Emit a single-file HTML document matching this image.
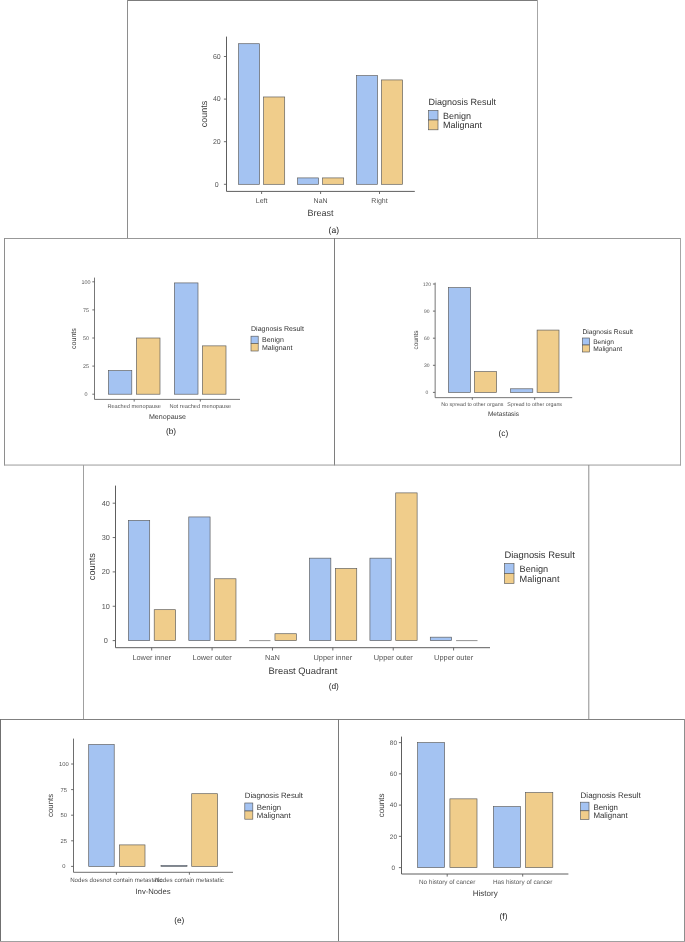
<!DOCTYPE html>
<html lang="en">
<head>
<meta charset="utf-8">
<title>Diagnosis result by clinical feature</title>
<style>
html,body{margin:0;padding:0;background:#ffffff;}
body{width:685px;height:942px;overflow:hidden;}
svg{display:block;font-family:"Liberation Sans", Arial, Helvetica, sans-serif;opacity:0.999;will-change:transform;}
svg text{white-space:pre;text-rendering:geometricPrecision;}
</style>
</head>
<body>
<svg width="685" height="942" viewBox="0 0 685 942">
<rect x="0" y="0" width="685" height="942" fill="#ffffff"/>
<g id="borders">
<rect x="127" y="0" width="411" height="1" fill="#7c7c7c"/>
<rect x="127" y="0" width="1" height="239" fill="#8e8e8e"/>
<rect x="537" y="0" width="1" height="239" fill="#a6a6a6"/>
<rect x="4" y="238" width="677" height="1" fill="#989898"/>
<rect x="4" y="238" width="1" height="227.4" fill="#8e8e8e"/>
<rect x="334" y="238" width="1" height="227.4" fill="#7e7e7e"/>
<rect x="680" y="238" width="1" height="227.4" fill="#a6a6a6"/>
<rect x="4" y="464.55" width="677" height="1" fill="#9c9c9c"/>
<rect x="83" y="465" width="1" height="255" fill="#a0a0a0"/>
<rect x="588.3" y="465" width="1" height="255" fill="#8e8e8e"/>
<rect x="0" y="719" width="685" height="1" fill="#808080"/>
<rect x="0" y="719" width="1" height="223" fill="#707070"/>
<rect x="338" y="719" width="1" height="223" fill="#7a7a7a"/>
<rect x="684" y="719" width="1" height="223" fill="#8e8e8e"/>
<rect x="0" y="941" width="685" height="1" fill="#a0a0a0"/>
</g>
<g id="panel-a">
<rect x="238.6" y="43.72" width="21" height="140.58" fill="#a4c3f2" stroke="#585858" stroke-width="0.65"/>
<rect x="263.6" y="96.97" width="21.1" height="87.33" fill="#f0cd8b" stroke="#585858" stroke-width="0.65"/>
<rect x="297.6" y="177.91" width="21" height="6.39" fill="#a4c3f2" stroke="#585858" stroke-width="0.65"/>
<rect x="322.6" y="177.91" width="21.1" height="6.39" fill="#f0cd8b" stroke="#585858" stroke-width="0.65"/>
<rect x="356.5" y="75.67" width="21" height="108.63" fill="#a4c3f2" stroke="#585858" stroke-width="0.65"/>
<rect x="381.5" y="79.93" width="21.1" height="104.37" fill="#f0cd8b" stroke="#585858" stroke-width="0.65"/>
<path d="M226.5 36.6V191.4H414.8" fill="none" stroke="#5e5e5e" stroke-width="1"/>
<line x1="223.9" y1="184.3" x2="226.5" y2="184.3" stroke="#5e5e5e" stroke-width="0.9"/>
<text x="216.8" y="186.68" font-size="7" text-anchor="middle" fill="#555555">0</text>
<line x1="223.9" y1="141.7" x2="226.5" y2="141.7" stroke="#5e5e5e" stroke-width="0.9"/>
<text x="216.8" y="144.08" font-size="7" text-anchor="middle" fill="#555555">20</text>
<line x1="223.9" y1="99.1" x2="226.5" y2="99.1" stroke="#5e5e5e" stroke-width="0.9"/>
<text x="216.8" y="101.48" font-size="7" text-anchor="middle" fill="#555555">40</text>
<line x1="223.9" y1="56.5" x2="226.5" y2="56.5" stroke="#5e5e5e" stroke-width="0.9"/>
<text x="216.8" y="58.88" font-size="7" text-anchor="middle" fill="#555555">60</text>
<line x1="261.6" y1="191.4" x2="261.6" y2="194" stroke="#5e5e5e" stroke-width="0.9"/>
<text x="261.6" y="202.78" font-size="7" text-anchor="middle" fill="#555555">Left</text>
<line x1="320.6" y1="191.4" x2="320.6" y2="194" stroke="#5e5e5e" stroke-width="0.9"/>
<text x="320.6" y="202.78" font-size="7" text-anchor="middle" fill="#555555">NaN</text>
<line x1="379.5" y1="191.4" x2="379.5" y2="194" stroke="#5e5e5e" stroke-width="0.9"/>
<text x="379.5" y="202.78" font-size="7" text-anchor="middle" fill="#555555">Right</text>
<text x="320.6" y="216.06" font-size="9" text-anchor="middle" fill="#3a3a3a">Breast</text>
<text transform="translate(207.1 114) rotate(-90)" font-size="9" text-anchor="middle" fill="#3a3a3a">counts</text>
<text x="428.6" y="105.06" font-size="9" text-anchor="start" fill="#333333">Diagnosis Result</text>
<rect x="428.6" y="110.5" width="9.4" height="9.5" fill="#a4c3f2" stroke="#585858" stroke-width="0.65"/>
<rect x="428.6" y="120" width="9.4" height="9.8" fill="#f0cd8b" stroke="#585858" stroke-width="0.65"/>
<text x="443" y="118.66" font-size="9" text-anchor="start" fill="#333333">Benign</text>
<text x="443" y="128.26" font-size="9" text-anchor="start" fill="#333333">Malignant</text>
<text x="333.8" y="232.89" font-size="8.5" text-anchor="middle" fill="#222222">(a)</text>
</g>
<g id="panel-b">
<rect x="108.5" y="370.6" width="23.3" height="23.6" fill="#a4c3f2" stroke="#585858" stroke-width="0.65"/>
<rect x="136.5" y="338" width="23.5" height="56.2" fill="#f0cd8b" stroke="#585858" stroke-width="0.65"/>
<rect x="174.4" y="282.92" width="23.6" height="111.28" fill="#a4c3f2" stroke="#585858" stroke-width="0.65"/>
<rect x="202.4" y="345.87" width="23.6" height="48.33" fill="#f0cd8b" stroke="#585858" stroke-width="0.65"/>
<path d="M94.5 277.6V399.4H240" fill="none" stroke="#5e5e5e" stroke-width="0.85"/>
<line x1="92.3" y1="394.2" x2="94.5" y2="394.2" stroke="#5e5e5e" stroke-width="0.9"/>
<text x="86" y="396.04" font-size="5.4" text-anchor="middle" fill="#555555">0</text>
<line x1="92.3" y1="366.1" x2="94.5" y2="366.1" stroke="#5e5e5e" stroke-width="0.9"/>
<text x="86" y="367.94" font-size="5.4" text-anchor="middle" fill="#555555">25</text>
<line x1="92.3" y1="338" x2="94.5" y2="338" stroke="#5e5e5e" stroke-width="0.9"/>
<text x="86" y="339.84" font-size="5.4" text-anchor="middle" fill="#555555">50</text>
<line x1="92.3" y1="309.9" x2="94.5" y2="309.9" stroke="#5e5e5e" stroke-width="0.9"/>
<text x="86" y="311.74" font-size="5.4" text-anchor="middle" fill="#555555">75</text>
<line x1="92.3" y1="281.8" x2="94.5" y2="281.8" stroke="#5e5e5e" stroke-width="0.9"/>
<text x="86" y="283.64" font-size="5.4" text-anchor="middle" fill="#555555">100</text>
<line x1="134.2" y1="399.4" x2="134.2" y2="401.6" stroke="#5e5e5e" stroke-width="0.9"/>
<text x="134.2" y="408.42" font-size="5.65" text-anchor="middle" fill="#555555">Reached menopause</text>
<line x1="200.3" y1="399.4" x2="200.3" y2="401.6" stroke="#5e5e5e" stroke-width="0.9"/>
<text x="200.3" y="408.42" font-size="5.65" text-anchor="middle" fill="#555555">Not reached menopause</text>
<text x="167.5" y="419.01" font-size="7.1" text-anchor="middle" fill="#3a3a3a">Menopause</text>
<text transform="translate(76.13 338.6) rotate(-90)" font-size="7.1" text-anchor="middle" fill="#3a3a3a">counts</text>
<text x="251" y="331.4" font-size="7.06" text-anchor="start" fill="#333333">Diagnosis Result</text>
<rect x="251" y="336.2" width="7.2" height="7.3" fill="#a4c3f2" stroke="#585858" stroke-width="0.65"/>
<rect x="251" y="343.5" width="7.2" height="7.5" fill="#f0cd8b" stroke="#585858" stroke-width="0.65"/>
<text x="262" y="342.18" font-size="7" text-anchor="start" fill="#333333">Benign</text>
<text x="262" y="349.78" font-size="7" text-anchor="start" fill="#333333">Malignant</text>
<text x="171" y="434.42" font-size="8.3" text-anchor="middle" fill="#222222">(b)</text>
</g>
<g id="panel-c">
<rect x="448.4" y="287.62" width="22.2" height="104.78" fill="#a4c3f2" stroke="#585858" stroke-width="0.65"/>
<rect x="474.4" y="371.62" width="22.2" height="20.78" fill="#f0cd8b" stroke="#585858" stroke-width="0.65"/>
<rect x="510.6" y="388.79" width="22.2" height="3.61" fill="#a4c3f2" stroke="#585858" stroke-width="0.65"/>
<rect x="537.1" y="330.07" width="21.9" height="62.33" fill="#f0cd8b" stroke="#585858" stroke-width="0.65"/>
<path d="M435.15 282.6V397.65H572.2" fill="none" stroke="#5e5e5e" stroke-width="0.85"/>
<line x1="432.95" y1="392.4" x2="435.15" y2="392.4" stroke="#5e5e5e" stroke-width="0.9"/>
<text x="426.8" y="394.1" font-size="5" text-anchor="middle" fill="#555555">0</text>
<line x1="432.95" y1="365.3" x2="435.15" y2="365.3" stroke="#5e5e5e" stroke-width="0.9"/>
<text x="426.8" y="367" font-size="5" text-anchor="middle" fill="#555555">30</text>
<line x1="432.95" y1="338.2" x2="435.15" y2="338.2" stroke="#5e5e5e" stroke-width="0.9"/>
<text x="426.8" y="339.9" font-size="5" text-anchor="middle" fill="#555555">60</text>
<line x1="432.95" y1="311.1" x2="435.15" y2="311.1" stroke="#5e5e5e" stroke-width="0.9"/>
<text x="426.8" y="312.8" font-size="5" text-anchor="middle" fill="#555555">90</text>
<line x1="432.95" y1="284" x2="435.15" y2="284" stroke="#5e5e5e" stroke-width="0.9"/>
<text x="426.8" y="285.7" font-size="5" text-anchor="middle" fill="#555555">120</text>
<line x1="472.3" y1="397.65" x2="472.3" y2="399.85" stroke="#5e5e5e" stroke-width="0.9"/>
<text x="472.3" y="406.12" font-size="5.35" text-anchor="middle" fill="#555555">No spread to other organs</text>
<line x1="534.7" y1="397.65" x2="534.7" y2="399.85" stroke="#5e5e5e" stroke-width="0.9"/>
<text x="534.7" y="406.12" font-size="5.35" text-anchor="middle" fill="#555555">Spread to other organs</text>
<text x="503.5" y="416.21" font-size="6.5" text-anchor="middle" fill="#3a3a3a">Metastasis</text>
<text transform="translate(417.55 340) rotate(-90)" font-size="6.5" text-anchor="middle" fill="#3a3a3a">counts</text>
<text x="582.4" y="333.69" font-size="6.74" text-anchor="start" fill="#333333">Diagnosis Result</text>
<rect x="582.4" y="338" width="7.2" height="7" fill="#a4c3f2" stroke="#585858" stroke-width="0.65"/>
<rect x="582.4" y="345" width="7.2" height="7" fill="#f0cd8b" stroke="#585858" stroke-width="0.65"/>
<text x="593.2" y="343.66" font-size="6.65" text-anchor="start" fill="#333333">Benign</text>
<text x="593.2" y="350.86" font-size="6.65" text-anchor="start" fill="#333333">Malignant</text>
<text x="503.4" y="435.82" font-size="8.3" text-anchor="middle" fill="#222222">(c)</text>
</g>
<g id="panel-d">
<rect x="128.4" y="520.38" width="21.3" height="120.23" fill="#a4c3f2" stroke="#585858" stroke-width="0.65"/>
<rect x="154.2" y="609.69" width="21.4" height="30.91" fill="#f0cd8b" stroke="#585858" stroke-width="0.65"/>
<rect x="188.78" y="516.94" width="21.3" height="123.66" fill="#a4c3f2" stroke="#585858" stroke-width="0.65"/>
<rect x="214.58" y="578.77" width="21.4" height="61.83" fill="#f0cd8b" stroke="#585858" stroke-width="0.65"/>
<line x1="249.16" y1="640.6" x2="270.46" y2="640.6" stroke="#585858" stroke-width="0.65"/>
<rect x="274.96" y="633.73" width="21.4" height="6.87" fill="#f0cd8b" stroke="#585858" stroke-width="0.65"/>
<rect x="309.54" y="558.16" width="21.3" height="82.44" fill="#a4c3f2" stroke="#585858" stroke-width="0.65"/>
<rect x="335.34" y="568.47" width="21.4" height="72.13" fill="#f0cd8b" stroke="#585858" stroke-width="0.65"/>
<rect x="369.92" y="558.16" width="21.3" height="82.44" fill="#a4c3f2" stroke="#585858" stroke-width="0.65"/>
<rect x="395.72" y="492.89" width="21.4" height="147.71" fill="#f0cd8b" stroke="#585858" stroke-width="0.65"/>
<rect x="430.3" y="637.17" width="21.3" height="3.43" fill="#a4c3f2" stroke="#585858" stroke-width="0.65"/>
<line x1="456.1" y1="640.6" x2="477.5" y2="640.6" stroke="#585858" stroke-width="0.65"/>
<path d="M115.5 485.6V647.7H490" fill="none" stroke="#5e5e5e" stroke-width="1"/>
<line x1="112.7" y1="640.6" x2="115.5" y2="640.6" stroke="#5e5e5e" stroke-width="0.9"/>
<text x="105.8" y="643.08" font-size="7.3" text-anchor="middle" fill="#555555">0</text>
<line x1="112.7" y1="606.25" x2="115.5" y2="606.25" stroke="#5e5e5e" stroke-width="0.9"/>
<text x="105.8" y="608.73" font-size="7.3" text-anchor="middle" fill="#555555">10</text>
<line x1="112.7" y1="571.9" x2="115.5" y2="571.9" stroke="#5e5e5e" stroke-width="0.9"/>
<text x="105.8" y="574.38" font-size="7.3" text-anchor="middle" fill="#555555">20</text>
<line x1="112.7" y1="537.55" x2="115.5" y2="537.55" stroke="#5e5e5e" stroke-width="0.9"/>
<text x="105.8" y="540.03" font-size="7.3" text-anchor="middle" fill="#555555">30</text>
<line x1="112.7" y1="503.2" x2="115.5" y2="503.2" stroke="#5e5e5e" stroke-width="0.9"/>
<text x="105.8" y="505.68" font-size="7.3" text-anchor="middle" fill="#555555">40</text>
<line x1="151.7" y1="647.7" x2="151.7" y2="650.5" stroke="#5e5e5e" stroke-width="0.9"/>
<text x="151.7" y="659.52" font-size="7.4" text-anchor="middle" fill="#555555">Lower inner</text>
<line x1="212.08" y1="647.7" x2="212.08" y2="650.5" stroke="#5e5e5e" stroke-width="0.9"/>
<text x="212.08" y="659.52" font-size="7.4" text-anchor="middle" fill="#555555">Lower outer</text>
<line x1="272.46" y1="647.7" x2="272.46" y2="650.5" stroke="#5e5e5e" stroke-width="0.9"/>
<text x="272.46" y="659.52" font-size="7.4" text-anchor="middle" fill="#555555">NaN</text>
<line x1="332.84" y1="647.7" x2="332.84" y2="650.5" stroke="#5e5e5e" stroke-width="0.9"/>
<text x="332.84" y="659.52" font-size="7.4" text-anchor="middle" fill="#555555">Upper inner</text>
<line x1="393.22" y1="647.7" x2="393.22" y2="650.5" stroke="#5e5e5e" stroke-width="0.9"/>
<text x="393.22" y="659.52" font-size="7.4" text-anchor="middle" fill="#555555">Upper outer</text>
<line x1="453.6" y1="647.7" x2="453.6" y2="650.5" stroke="#5e5e5e" stroke-width="0.9"/>
<text x="453.6" y="659.52" font-size="7.4" text-anchor="middle" fill="#555555">Upper outer</text>
<text x="303" y="673.8" font-size="9.4" text-anchor="middle" fill="#3a3a3a">Breast Quadrant</text>
<text transform="translate(95.26 566.6) rotate(-90)" font-size="9.2" text-anchor="middle" fill="#3a3a3a">counts</text>
<text x="504.4" y="557.6" font-size="9.4" text-anchor="start" fill="#333333">Diagnosis Result</text>
<rect x="504.4" y="563.6" width="9.6" height="9.8" fill="#a4c3f2" stroke="#585858" stroke-width="0.65"/>
<rect x="504.4" y="573.4" width="9.6" height="10" fill="#f0cd8b" stroke="#585858" stroke-width="0.65"/>
<text x="519.6" y="571.73" font-size="9.2" text-anchor="start" fill="#333333">Benign</text>
<text x="519.6" y="581.73" font-size="9.2" text-anchor="start" fill="#333333">Malignant</text>
<text x="333.8" y="688.82" font-size="8.3" text-anchor="middle" fill="#222222">(d)</text>
</g>
<g id="panel-e">
<rect x="88.7" y="744.54" width="25.5" height="121.86" fill="#a4c3f2" stroke="#585858" stroke-width="0.65"/>
<rect x="119.5" y="844.9" width="25.5" height="21.5" fill="#f0cd8b" stroke="#585858" stroke-width="0.65"/>
<rect x="161" y="865.38" width="26" height="1.02" fill="#a4c3f2" stroke="#585858" stroke-width="0.65"/>
<rect x="191.7" y="793.7" width="25.9" height="72.7" fill="#f0cd8b" stroke="#585858" stroke-width="0.65"/>
<path d="M73.5 738.6V872.3H233" fill="none" stroke="#5e5e5e" stroke-width="0.9"/>
<line x1="71.1" y1="866.4" x2="73.5" y2="866.4" stroke="#5e5e5e" stroke-width="0.9"/>
<text x="63.8" y="868.37" font-size="5.8" text-anchor="middle" fill="#555555">0</text>
<line x1="71.1" y1="840.8" x2="73.5" y2="840.8" stroke="#5e5e5e" stroke-width="0.9"/>
<text x="63.8" y="842.77" font-size="5.8" text-anchor="middle" fill="#555555">25</text>
<line x1="71.1" y1="815.2" x2="73.5" y2="815.2" stroke="#5e5e5e" stroke-width="0.9"/>
<text x="63.8" y="817.17" font-size="5.8" text-anchor="middle" fill="#555555">50</text>
<line x1="71.1" y1="789.6" x2="73.5" y2="789.6" stroke="#5e5e5e" stroke-width="0.9"/>
<text x="63.8" y="791.57" font-size="5.8" text-anchor="middle" fill="#555555">75</text>
<line x1="71.1" y1="764" x2="73.5" y2="764" stroke="#5e5e5e" stroke-width="0.9"/>
<text x="63.8" y="765.97" font-size="5.8" text-anchor="middle" fill="#555555">100</text>
<line x1="116.4" y1="872.3" x2="116.4" y2="874.7" stroke="#5e5e5e" stroke-width="0.9"/>
<text x="116.4" y="882.19" font-size="6.15" text-anchor="middle" fill="#555555">Nodes doesnot contain metastatic</text>
<line x1="189.4" y1="872.3" x2="189.4" y2="874.7" stroke="#5e5e5e" stroke-width="0.9"/>
<text x="189.4" y="882.19" font-size="6.15" text-anchor="middle" fill="#555555">Nodes contain metastatic</text>
<text x="153" y="893.82" font-size="7.7" text-anchor="middle" fill="#3a3a3a">Inv-Nodes</text>
<text transform="translate(52.94 805.4) rotate(-90)" font-size="7.8" text-anchor="middle" fill="#3a3a3a">counts</text>
<text x="244.8" y="797.84" font-size="7.76" text-anchor="start" fill="#333333">Diagnosis Result</text>
<rect x="244.8" y="803" width="8" height="8" fill="#a4c3f2" stroke="#585858" stroke-width="0.65"/>
<rect x="244.8" y="811" width="8" height="8.2" fill="#f0cd8b" stroke="#585858" stroke-width="0.65"/>
<text x="256.8" y="809.65" font-size="7.8" text-anchor="start" fill="#333333">Benign</text>
<text x="256.8" y="818.05" font-size="7.8" text-anchor="start" fill="#333333">Malignant</text>
<text x="179.2" y="923.42" font-size="8.3" text-anchor="middle" fill="#222222">(e)</text>
</g>
<g id="panel-f">
<rect x="417.6" y="742.6" width="27" height="125" fill="#a4c3f2" stroke="#585858" stroke-width="0.65"/>
<rect x="449.9" y="798.85" width="27.1" height="68.75" fill="#f0cd8b" stroke="#585858" stroke-width="0.65"/>
<rect x="493.4" y="806.66" width="27" height="60.94" fill="#a4c3f2" stroke="#585858" stroke-width="0.65"/>
<rect x="525.6" y="792.6" width="27.2" height="75" fill="#f0cd8b" stroke="#585858" stroke-width="0.65"/>
<path d="M401.5 736.6V874H568.4" fill="none" stroke="#5e5e5e" stroke-width="1"/>
<line x1="398.9" y1="867.6" x2="401.5" y2="867.6" stroke="#5e5e5e" stroke-width="0.9"/>
<text x="393.4" y="869.78" font-size="6.4" text-anchor="middle" fill="#555555">0</text>
<line x1="398.9" y1="836.35" x2="401.5" y2="836.35" stroke="#5e5e5e" stroke-width="0.9"/>
<text x="393.4" y="838.53" font-size="6.4" text-anchor="middle" fill="#555555">20</text>
<line x1="398.9" y1="805.1" x2="401.5" y2="805.1" stroke="#5e5e5e" stroke-width="0.9"/>
<text x="393.4" y="807.28" font-size="6.4" text-anchor="middle" fill="#555555">40</text>
<line x1="398.9" y1="773.85" x2="401.5" y2="773.85" stroke="#5e5e5e" stroke-width="0.9"/>
<text x="393.4" y="776.03" font-size="6.4" text-anchor="middle" fill="#555555">60</text>
<line x1="398.9" y1="742.6" x2="401.5" y2="742.6" stroke="#5e5e5e" stroke-width="0.9"/>
<text x="393.4" y="744.78" font-size="6.4" text-anchor="middle" fill="#555555">80</text>
<line x1="447.2" y1="874" x2="447.2" y2="876.6" stroke="#5e5e5e" stroke-width="0.9"/>
<text x="447.2" y="883.76" font-size="6.35" text-anchor="middle" fill="#555555">No history of cancer</text>
<line x1="522.7" y1="874" x2="522.7" y2="876.6" stroke="#5e5e5e" stroke-width="0.9"/>
<text x="522.7" y="883.76" font-size="6.35" text-anchor="middle" fill="#555555">Has history of cancer</text>
<text x="485.2" y="895.72" font-size="8" text-anchor="middle" fill="#3a3a3a">History</text>
<text transform="translate(384.43 805.4) rotate(-90)" font-size="8.1" text-anchor="middle" fill="#3a3a3a">counts</text>
<text x="580.6" y="797.72" font-size="8" text-anchor="start" fill="#333333">Diagnosis Result</text>
<rect x="580.6" y="802.2" width="8.4" height="8.6" fill="#a4c3f2" stroke="#585858" stroke-width="0.65"/>
<rect x="580.6" y="810.8" width="8.4" height="8.6" fill="#f0cd8b" stroke="#585858" stroke-width="0.65"/>
<text x="593.4" y="809.69" font-size="7.9" text-anchor="start" fill="#333333">Benign</text>
<text x="593.4" y="817.69" font-size="7.9" text-anchor="start" fill="#333333">Malignant</text>
<text x="503.5" y="919.22" font-size="8.3" text-anchor="middle" fill="#222222">(f)</text>
</g>
</svg>
</body>
</html>
